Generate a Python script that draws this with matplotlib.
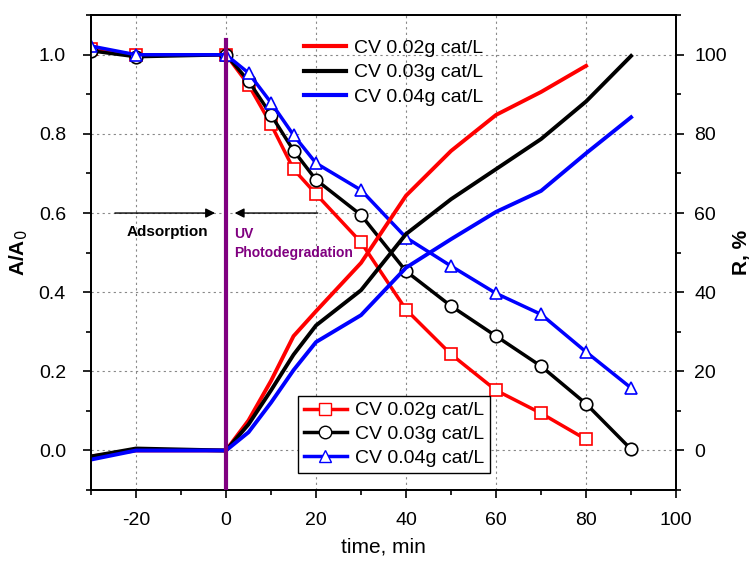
import matplotlib
matplotlib.use("Agg")
import matplotlib.pyplot as plt
from matplotlib.ticker import MultipleLocator
from matplotlib.lines import Line2D

plt.rcParams["font.family"] = ["Liberation Sans", "DejaVu Sans"]
plt.rcParams["axes.unicode_minus"] = False

# sampling times (min), negative = dark adsorption stage
time = [-30, -20, 0, 5, 10, 15, 20, 30, 40, 50, 60, 70, 80, 90]

# normalised absorbance A/A0
a_002 = [1.015, 1.0, 1.0, 0.924, 0.824, 0.711, 0.648, 0.526, 0.356, 0.243, 0.152, 0.094, 0.028]
a_003 = [1.01, 0.995, 1.0, 0.934, 0.848, 0.758, 0.684, 0.595, 0.453, 0.365, 0.289, 0.213, 0.118, 0.003]
a_004 = [1.022, 1.0, 1.0, 0.954, 0.879, 0.797, 0.726, 0.658, 0.538, 0.466, 0.397, 0.344, 0.249, 0.158]

# removal efficiency R, %
r_002 = [-1.5, 0.0, 0.0, 7.6, 17.6, 28.9, 35.2, 47.4, 64.4, 75.7, 84.8, 90.6, 97.2]
r_003 = [-1.5, 0.5, 0.0, 6.6, 15.2, 24.2, 31.6, 40.5, 54.7, 63.5, 71.1, 78.7, 88.2, 99.7]
r_004 = [-2.3, 0.0, 0.0, 4.6, 12.1, 20.3, 27.4, 34.2, 46.2, 53.4, 60.3, 65.6, 75.1, 84.2]

labels = ["CV 0.02g cat/L", "CV 0.03g cat/L", "CV 0.04g cat/L"]
colors = ["#ff0000", "#000000", "#0000ff"]
markers = ["s", "o", "^"]

fig = plt.figure(figsize=(7.55, 5.62), dpi=100)
ax = fig.add_axes([0.1205, 0.128, 0.775, 0.845])
ax2 = ax.twinx()

n = [len(a_002), len(a_003), len(a_004)]
for a, c, m, k in zip([a_002, a_003, a_004], colors, markers, n):
    ax.plot(time[:k], a, color=c, lw=2.5, marker=m, ms=9, mfc="white",
            mec=c, mew=1.2, zorder=3)

for r, c, k in zip([r_002, r_003, r_004], colors, n):
    ax2.plot(time[:k], r, color=c, lw=2.8)

# irradiation start
ax2.plot([0, 0], [-10, 103.8], color="#800080", lw=3, zorder=5)

ax.set_xlim(-30, 100)
ax.set_ylim(-0.1, 1.1)
ax2.set_ylim(-10, 110)

ax.xaxis.set_major_locator(MultipleLocator(20))
ax.xaxis.set_minor_locator(MultipleLocator(10))
ax.yaxis.set_major_locator(MultipleLocator(0.2))
ax.yaxis.set_minor_locator(MultipleLocator(0.1))
ax2.yaxis.set_major_locator(MultipleLocator(20))
ax2.yaxis.set_minor_locator(MultipleLocator(10))
ax.set_xticks([-20, 0, 20, 40, 60, 80, 100])

ax.yaxis.set_major_formatter(plt.FuncFormatter(lambda v, p: f"{v:.1f}"))
ax2.set_yticks([0, 20, 40, 60, 80, 100])

for a_ in (ax, ax2):
    a_.tick_params(which="major", direction="out", length=6, width=1.2, labelsize=14, pad=7)
    a_.tick_params(which="minor", direction="out", length=3.5, width=1.2)
    for s in a_.spines.values():
        s.set_linewidth(1.3)
ax.tick_params(axis="y", pad=12)
ax.tick_params(axis="x", pad=10)

ax.grid(True, which="major", ls=(0, (2, 3)), color="#888888", lw=0.8)
ax.set_axisbelow(True)

ax.set_xlabel("time, min", fontsize=15, labelpad=6)
ax.set_ylabel("A/A$_0$", fontsize=15, fontweight="bold", labelpad=6)
ax2.set_ylabel("R, %", fontsize=15, fontweight="bold", labelpad=4)

# stage annotations
ax.annotate("", xy=(-1.8, 0.6), xytext=(-25.3, 0.6),
            arrowprops=dict(arrowstyle="-|>", color="black", lw=1, mutation_scale=14))
ax.annotate("", xy=(1.3, 0.6), xytext=(21, 0.6),
            arrowprops=dict(arrowstyle="-|>", color="black", lw=1, mutation_scale=14))
ax.text(-13, 0.553, "Adsorption", fontsize=11, fontweight="bold", ha="center", va="center")
ax.text(1.8, 0.548, "UV", fontsize=10, fontweight="bold", color="#800080", va="center")
ax.text(1.8, 0.5, "Photodegradation", fontsize=10, fontweight="bold", color="#800080", va="center")

# legends
line_handles = [Line2D([], [], color=c, lw=3) for c in colors]
leg1 = ax2.legend(line_handles, labels, loc="upper left", bbox_to_anchor=(0.35, 0.966),
                  frameon=False, fontsize=14, handlelength=2.2, handletextpad=0.4,
                  labelspacing=0.36, borderaxespad=0)
ax2.add_artist(leg1)

mark_handles = [Line2D([], [], color=c, lw=2.5, marker=m, ms=9, mfc="white", mec=c)
                for c, m in zip(colors, markers)]
leg2 = ax2.legend(mark_handles, labels, loc="lower left", bbox_to_anchor=(0.354, 0.036),
                  frameon=True, fancybox=False, edgecolor="black", fontsize=14,
                  handlelength=2.2, handletextpad=0.4, labelspacing=0.32,
                  borderaxespad=0, borderpad=0.3, framealpha=1)
leg2.get_frame().set_linewidth(1.0)

fig.savefig("out.png", dpi=100)
